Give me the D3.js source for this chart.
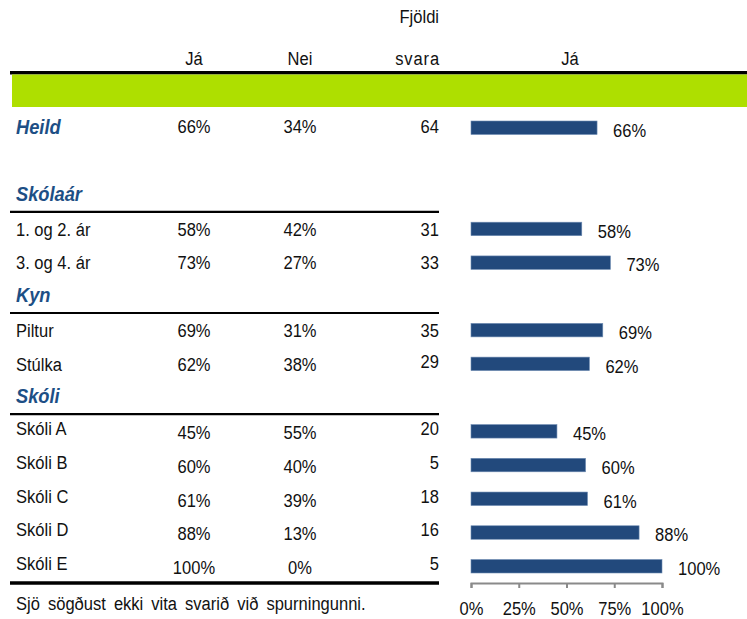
<!doctype html>
<html>
<head>
<meta charset="utf-8">
<script src="https://cdnjs.cloudflare.com/ajax/libs/d3/7.8.5/d3.min.js"></script>
<style>
body { margin: 0; background: #fff; }
svg text { font-family: "Liberation Sans", Arial, sans-serif; font-size: 19px; fill: #111; }
</style>
</head>
<body>
<svg id="chart" width="747" height="619"></svg>
<script>
// row order down the table, "" is an empty spacer row
var rowOrder = ["Heild", "", "Skólaár", "1. og 2. ár", "3. og 4. ár", "Kyn", "Piltur", "Stúlka",
  "Skóli", "Skóli A", "Skóli B", "Skóli C", "Skóli D", "Skóli E"];
var groupHeads = ["Heild", "Skólaár", "Kyn", "Skóli"];
var categories = ["Heild", "1. og 2. ár", "3. og 4. ár", "Piltur", "Stúlka",
  "Skóli A", "Skóli B", "Skóli C", "Skóli D", "Skóli E"];
var yesPct = [66, 58, 73, 69, 62, 45, 60, 61, 88, 100];
var noPct = [34, 42, 27, 31, 38, 55, 40, 39, 13, 0];
var counts = [64, 31, 33, 35, 29, 20, 5, 18, 16, 5];
var axisTicks = [0, 25, 50, 75, 100];
var footnote = "Sjö sögðust ekki vita svarið við spurningunni.";

var svg = d3.select("#chart");
var blue = "#1d4f85";
var squeeze = 0.87; // the original uses a narrow face

var y = d3.scalePoint().domain(d3.range(rowOrder.length)).range([127.5, 566]);
var step = y.step();
var x = d3.scaleLinear().domain([0, 100]).range([471, 662]);

var data = categories.map(function(c, i) {
  var idx = rowOrder.indexOf(c);
  return { name: c, yes: yesPct[i], no: noPct[i], n: counts[i], row: idx, school: c.indexOf("Skóli ") === 0 };
});

// place text at (px,py), squeezed horizontally
function place(sel, px, py) {
  return sel.attr("transform", function(d, i) {
    var a = typeof px === "function" ? px(d, i) : px;
    var b = typeof py === "function" ? py(d, i) : py;
    return "translate(" + a + "," + b + ") scale(" + squeeze + ",1)";
  });
}

// header
svg.append("rect").attr("x", 10).attr("y", 71).attr("width", 737).attr("height", 3.5).attr("fill", "#000");
svg.append("rect").attr("x", 12).attr("y", 74.5).attr("width", 735).attr("height", 32.5).attr("fill", "#aedf00");
place(svg.append("text").attr("text-anchor", "end").text("Fjöldi"), 439, 23);
place(svg.append("text").attr("text-anchor", "end").style("letter-spacing", "1px").text("svara"), 440, 65);
place(svg.append("text").attr("text-anchor", "middle").text("Já"), 194, 65);
place(svg.append("text").attr("text-anchor", "middle").text("Nei"), 300, 65);
place(svg.append("text").attr("text-anchor", "middle").text("Já"), 570, 65);

// group headings
place(svg.selectAll("text.head").data(groupHeads).enter().append("text")
  .attr("class", "head")
  .style("font-weight", "bold").style("font-style", "italic").style("fill", blue)
  .style("font-size", "21px")
  .text(function(d) { return d; }),
  16, function(d) { return y(rowOrder.indexOf(d)) + 6; });

// rules under group headings
svg.selectAll("line.rule").data(groupHeads.slice(1)).enter().append("line")
  .attr("class", "rule")
  .attr("x1", 10).attr("x2", 439)
  .attr("y1", function(d) { return y(rowOrder.indexOf(d)) + step / 2; })
  .attr("y2", function(d) { return y(rowOrder.indexOf(d)) + step / 2; })
  .attr("stroke", "#000").attr("stroke-width", 2.2);
svg.append("line").attr("x1", 10).attr("x2", 439)
  .attr("y1", y(rowOrder.length - 1) + 17).attr("y2", y(rowOrder.length - 1) + 17)
  .attr("stroke", "#000").attr("stroke-width", 3.5);

// table rows
var rows = svg.selectAll("g.row").data(data).enter().append("g").attr("class", "row");
function pctY(d) { return y(d.row) + (d.school ? 8 : (d.name === "Heild" ? 5 : 7)); }
place(rows.filter(function(d) { return d.name !== "Heild"; }).append("text")
  .text(function(d) { return d.name; }),
  16, function(d) { return y(d.row) + (d.school ? 4 : 7); });
place(rows.append("text").attr("text-anchor", "middle")
  .text(function(d) { return d.yes + "%"; }), 194, pctY);
place(rows.append("text").attr("text-anchor", "middle")
  .text(function(d) { return d.no + "%"; }), 300, pctY);
place(rows.append("text").attr("text-anchor", "end")
  .text(function(d) { return d.n; }),
  439, function(d) { return y(d.row) + (d.school || d.name === "Stúlka" ? 4 : (d.name === "Heild" ? 5 : 7)); });

// bars
rows.append("rect")
  .attr("x", x(0))
  .attr("y", function(d) { return y(d.row) - 6.5; })
  .attr("width", function(d) { return x(d.yes) - x(0); })
  .attr("height", 13.5)
  .attr("fill", "#22497c")
  .attr("stroke", "#6f8db3").attr("stroke-width", 0.6);
place(rows.append("text").text(function(d) { return d.yes + "%"; }),
  function(d) { return x(d.yes) + 16; }, function(d) { return y(d.row) + 9; });

// axis
var axis = svg.append("g")
  .attr("transform", "translate(0," + (y(rowOrder.length - 1) + 17) + ")")
  .call(d3.axisBottom(x).tickValues(axisTicks).tickFormat(function(d) { return d + "%"; })
    .tickSize(5).tickSizeOuter(5).tickPadding(14));
axis.selectAll("path, line").attr("stroke", "#8a8a8a").attr("stroke-width", 2);
axis.selectAll("text").style("font-family", "'Liberation Sans', Arial, sans-serif")
  .style("font-size", "19px").attr("fill", "#111")
  .attr("transform", "scale(" + squeeze + ",1)");

place(svg.append("text").style("word-spacing", "4px").text(footnote), 16, 610);
</script>
</body>
</html>
